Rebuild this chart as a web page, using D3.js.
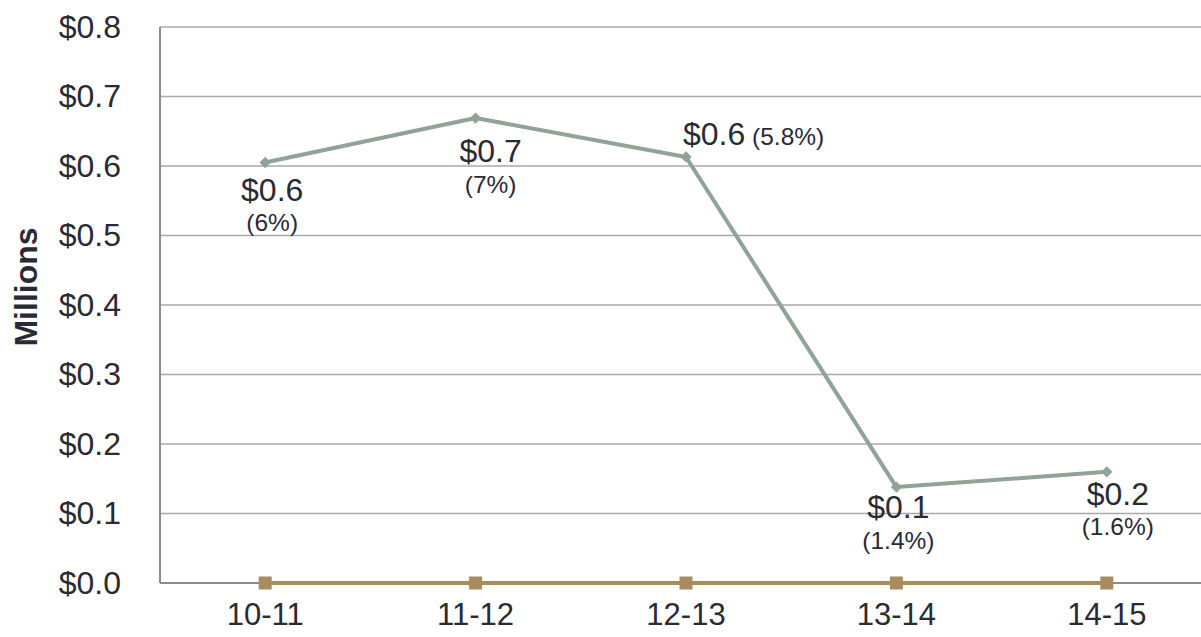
<!DOCTYPE html>
<html>
<head>
<meta charset="utf-8">
<script src="https://cdn.jsdelivr.net/npm/d3@7"></script>
<style>
  html, body { margin: 0; padding: 0; background: #fff; }
  svg { display: block; }
  text { font-family: "Liberation Sans", Arial, sans-serif; fill: #2a2a34; }
</style>
</head>
<body>
<svg id="chart" width="1201" height="637"></svg>
<script>
// ---- data ----
const categories = ["10-11", "11-12", "12-13", "13-14", "14-15"];
const amounts = [0.605, 0.669, 0.613, 0.138, 0.160];      // millions
const percents = ["6%", "7%", "5.8%", "1.4%", "1.6%"];
const baseline = [0, 0, 0, 0, 0];
const yTicks = [0, 0.1, 0.2, 0.3, 0.4, 0.5, 0.6, 0.7, 0.8];

// ---- label layout (manual placement like the source) ----
const labelLayout = [
  { mode: "stack", dx: 7, dy1: 38, dy2: 68 },
  { mode: "stack", dx: 15, dy1: 44, dy2: 75 },
  { mode: "inline", dx: -3, dy1: -12 },
  { mode: "stack", dx: 2, dy1: 31, dy2: 62 },
  { mode: "stack", dx: 11, dy1: 33, dy2: 63 }
];

const svg = d3.select("#chart");
const mLeft = 160, mTop = 27, plotH = 556, step = 210.4;
const mRight = mLeft + step * categories.length;

const x = d3.scaleBand().domain(categories).range([mLeft, mRight]).padding(0);
const y = d3.scaleLinear().domain([0, 0.8]).range([mTop + plotH, mTop]);
const cx = d => x(d) + x.bandwidth() / 2;

// gridlines
svg.append("g")
  .selectAll("line")
  .data(yTicks.filter(t => t > 0))
  .join("line")
  .attr("x1", mLeft).attr("x2", mRight)
  .attr("y1", d => y(d)).attr("y2", d => y(d))
  .attr("stroke", "#a8a8a8").attr("stroke-width", 1.4);

// y axis labels
const yAxis = d3.axisLeft(y).tickValues(yTicks).tickSize(0).tickPadding(39)
  .tickFormat(d => "$" + d3.format(".1f")(d));
const gy = svg.append("g").attr("transform", `translate(${mLeft},0)`).call(yAxis);
gy.select(".domain").remove();
gy.selectAll("text").style("font-size", "32px").attr("fill", "#2a2a34")
  .style("font-family", "'Liberation Sans', Arial, sans-serif");

// axis lines
svg.append("line").attr("x1", mLeft).attr("x2", mLeft).attr("y1", mTop).attr("y2", y(0))
  .attr("stroke", "#8c8c8c").attr("stroke-width", 2);
svg.append("line").attr("x1", mLeft).attr("x2", mRight).attr("y1", y(0)).attr("y2", y(0))
  .attr("stroke", "#8c8c8c").attr("stroke-width", 2);

// x axis labels
const xAxis = d3.axisBottom(x).tickSize(0).tickPadding(20);
const gx = svg.append("g").attr("transform", `translate(0,${y(0)})`).call(xAxis);
gx.select(".domain").remove();
gx.selectAll("text").style("font-size", "31px").attr("fill", "#2a2a34")
  .style("font-family", "'Liberation Sans', Arial, sans-serif");

// y title
svg.append("text")
  .attr("transform", `translate(37,${287}) rotate(-90)`)
  .attr("text-anchor", "middle")
  .style("font-size", "32px").style("font-weight", "bold")
  .text("Millions");

// baseline series (brown)
const line = d3.line().x((d, i) => cx(categories[i])).y(d => y(d));
svg.append("path").datum(baseline).attr("d", line)
  .attr("fill", "none").attr("stroke", "#a98b5f").attr("stroke-width", 4);
svg.append("g").selectAll("rect").data(baseline).join("rect")
  .attr("x", (d, i) => cx(categories[i]) - 6.5).attr("y", d => y(d) - 6.5)
  .attr("width", 13).attr("height", 13).attr("fill", "#a98b5f");

// main series (grey-green)
svg.append("path").datum(amounts).attr("d", line)
  .attr("fill", "none").attr("stroke", "#8fa396").attr("stroke-width", 4)
  .attr("stroke-linejoin", "round");
svg.append("g").selectAll("path").data(amounts).join("path")
  .attr("d", d3.symbol(d3.symbolSquare, 64)())
  .attr("transform", (d, i) => `translate(${cx(categories[i])},${y(d)}) rotate(45)`)
  .attr("fill", "#8fa396");

// data labels
const fmt = v => "$" + d3.format(".1f")(v);
const lg = svg.append("g");
amounts.forEach((v, i) => {
  const L = labelLayout[i];
  const px = cx(categories[i]), py = y(v);
  if (L.mode === "stack") {
    lg.append("text").attr("x", px + L.dx).attr("y", py + L.dy1)
      .attr("text-anchor", "middle").style("font-size", "32px").text(fmt(v));
    lg.append("text").attr("x", px + L.dx).attr("y", py + L.dy2)
      .attr("text-anchor", "middle").style("font-size", "24.5px").text("(" + percents[i] + ")");
  } else {
    const t = lg.append("text").attr("x", px + L.dx).attr("y", py + L.dy1)
      .attr("text-anchor", "start");
    t.append("tspan").style("font-size", "32px").text(fmt(v));
    t.append("tspan").style("font-size", "24.5px").text(" (" + percents[i] + ")");
  }
});
</script>
</body>
</html>
